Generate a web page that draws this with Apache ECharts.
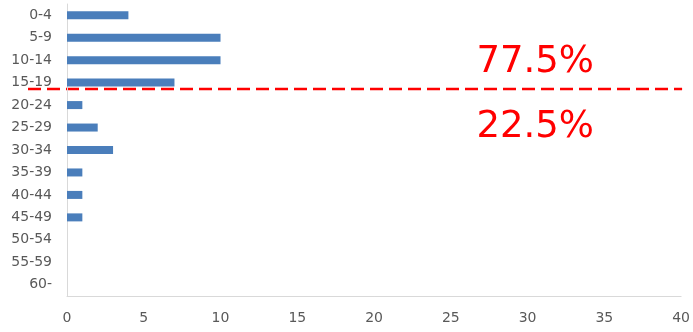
<!DOCTYPE html>
<html><head><meta charset="utf-8">
<script src="https://cdn.jsdelivr.net/npm/echarts@6/dist/echarts.min.js"></script>
<style>html,body{margin:0;padding:0;background:#fff}#c{width:693px;height:332px}</style>
</head><body><div id="c"></div>
<script>
const categories = ['0-4','5-9','10-14','15-19','20-24','25-29','30-34','35-39','40-44','45-49','50-54','55-59','60-'];
const values = [4,10,10,7,1,2,3,1,1,1,0,0,0];
const xTicks = [0,5,10,15,20,25,30,35,40];
const upperLabel = '77.5%';
const lowerLabel = '22.5%';

const chart = echarts.init(document.getElementById('c'));
const font = 'DejaVu Sans';
chart.setOption({
  animation:false,
  grid:{left:67,right:11,top:4,bottom:36},
  xAxis:{type:'value',min:xTicks[0],max:xTicks[xTicks.length-1],interval:5,
    axisLine:{show:true,lineStyle:{color:'#d9d9d9',width:1}},
    axisTick:{show:false},splitLine:{show:false},
    axisLabel:{color:'#595959',fontFamily:font,fontSize:14,margin:15}},
  yAxis:{type:'category',data:categories,inverse:true,
    axisLine:{show:true,lineStyle:{color:'#d9d9d9',width:1}},
    axisTick:{show:false},
    axisLabel:{color:'#595959',fontFamily:font,fontSize:14,margin:15}},
  series:[{type:'bar',data:values,barWidth:8,itemStyle:{color:'#4a7ebb'}}]
});
// annotation line between 15-19 and 20-24
const yA = chart.convertToPixel({yAxisIndex:0}, categories[3]);
const yB = chart.convertToPixel({yAxisIndex:0}, categories[4]);
const yLine = yA + (yB-yA)*0.28;
const xEnd = chart.convertToPixel({xAxisIndex:0}, xTicks[xTicks.length-1]);
const xMid = chart.convertToPixel({xAxisIndex:0}, 30.5);
chart.setOption({graphic:[
  {type:'line',shape:{x1:28,y1:yLine,x2:xEnd+1,y2:yLine},
   style:{stroke:'#ff0000',lineWidth:2.5,lineDash:[13,6]}},
  {type:'text',x:xMid,y:yLine-27,style:{text:upperLabel,fill:'#ff0000',font:'37px "DejaVu Sans"',textAlign:'center',textVerticalAlign:'middle'}},
  {type:'text',x:xMid,y:yLine+38,style:{text:lowerLabel,fill:'#ff0000',font:'37px "DejaVu Sans"',textAlign:'center',textVerticalAlign:'middle'}}
]});
</script></body></html>
